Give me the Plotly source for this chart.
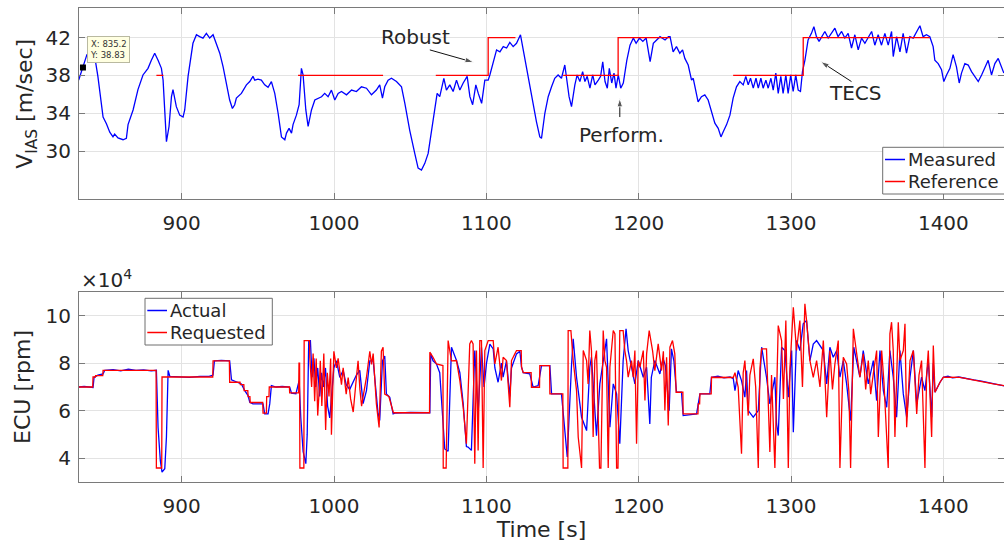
import plotly.graph_objects as go

# ---------------------------------------------------------------------------
# Data: airspeed tracking (top) and ECU engine speed (bottom)
# ---------------------------------------------------------------------------
# Measured indicated airspeed V_IAS [m/s]: (time [s], value)
vias_measured = [
    (832.4, 37.5), (835.2, 38.83), (837.8, 40.2), (840.5, 40.4), (842.9, 40.0),
    (845.0, 37.9), (848.4, 33.6), (850.6, 32.9), (852.8, 32.0), (854.9, 31.5),
    (856.0, 31.8), (858.2, 31.4), (861.5, 31.2), (863.7, 31.35), (864.8, 32.8),
    (868.1, 34.35), (871.3, 36.5), (874.6, 38.05), (877.9, 38.75), (880.1, 39.6),
    (882.3, 40.35), (884.5, 39.6), (886.7, 38.75), (887.8, 37.5), (890.0, 31.0),
    (891.7, 32.6), (893.3, 35.75), (894.3, 36.5), (895.4, 35.75), (896.5, 34.7),
    (898.7, 33.8), (900.9, 33.6), (902.0, 34.35), (904.2, 37.9), (907.4, 41.4),
    (909.7, 42.3), (911.8, 42.1), (914.0, 41.95), (916.2, 42.45), (918.4, 41.95),
    (920.6, 42.3), (922.8, 41.2), (925.0, 40.35), (927.2, 38.9), (929.4, 37.2),
    (931.5, 35.4), (933.3, 34.5), (934.8, 34.9), (935.9, 35.6), (939.2, 36.1),
    (942.5, 37.0), (944.7, 37.35), (946.8, 37.9), (948.0, 37.5), (950.1, 37.6),
    (952.3, 37.5), (954.5, 37.0), (956.7, 36.75), (958.9, 37.35), (961.1, 36.1),
    (963.3, 34.0), (965.5, 31.5), (967.7, 31.2), (968.8, 31.9), (970.5, 32.4),
    (972.1, 31.9), (973.1, 32.8), (975.3, 33.8), (977.1, 34.9), (978.6, 38.75),
    (979.7, 38.05), (981.5, 34.35), (983.0, 32.6), (985.2, 34.35), (987.4, 35.4),
    (989.5, 35.6), (991.8, 35.75), (993.9, 36.1), (996.1, 35.75), (998.3, 36.45),
    (1000.5, 35.4), (1002.7, 36.1), (1004.9, 36.3), (1008.2, 35.95), (1011.5, 36.45),
    (1014.7, 36.3), (1018.0, 36.8), (1021.3, 36.65), (1024.6, 35.95), (1027.8, 36.45),
    (1030.0, 37.0), (1031.8, 35.6), (1033.3, 36.8), (1035.5, 37.5), (1037.7, 37.7),
    (1041.0, 37.35), (1044.3, 36.8), (1046.5, 35.05), (1049.7, 32.2), (1053.0, 29.75),
    (1055.2, 28.2), (1057.4, 28.0), (1059.6, 28.7), (1061.8, 29.75), (1064.0, 32.05),
    (1066.2, 34.7), (1067.7, 36.1), (1069.4, 35.75), (1072.1, 37.7), (1073.8, 36.45),
    (1076.0, 37.0), (1078.2, 36.3), (1080.4, 37.5), (1082.6, 36.45), (1084.8, 37.2),
    (1087.4, 37.9), (1089.2, 35.75), (1091.0, 34.9), (1093.1, 37.0), (1094.7, 36.1),
    (1096.9, 35.05), (1099.0, 37.5), (1101.2, 37.5), (1102.3, 38.05), (1104.5, 39.45),
    (1106.7, 40.7), (1108.9, 40.5), (1111.1, 41.05), (1113.3, 40.9), (1115.4, 41.5),
    (1117.6, 41.05), (1119.8, 41.4), (1122.4, 42.3), (1124.2, 40.7), (1126.4, 39.1),
    (1128.6, 37.2), (1130.7, 35.2), (1132.9, 33.1), (1135.1, 31.5), (1136.2, 31.35),
    (1138.4, 34.0), (1140.6, 35.75), (1142.8, 36.8), (1144.9, 37.7), (1147.1, 38.05),
    (1149.3, 37.7), (1151.5, 39.1), (1153.0, 37.5), (1154.3, 35.75), (1155.9, 34.7),
    (1158.1, 37.0), (1159.6, 38.05), (1161.4, 37.35), (1163.2, 38.4), (1164.7, 37.35),
    (1166.2, 37.9), (1168.0, 36.65), (1169.8, 38.05), (1171.3, 37.0), (1173.5, 37.5),
    (1175.0, 37.9), (1176.4, 39.45), (1177.9, 37.35), (1179.4, 36.65), (1180.7, 38.75),
    (1182.3, 37.2), (1183.8, 38.25), (1185.1, 36.65), (1186.6, 38.05), (1188.2, 36.65),
    (1189.9, 37.2), (1192.2, 39.6), (1194.3, 41.2), (1196.5, 41.95), (1198.3, 41.4),
    (1200.5, 41.95), (1202.7, 41.6), (1204.9, 41.95), (1207.5, 39.45), (1209.6, 41.4),
    (1211.9, 41.75), (1214.0, 42.1), (1217.3, 41.75), (1219.5, 42.1), (1220.6, 42.1),
    (1222.6, 40.5), (1224.8, 41.05), (1227.0, 40.35), (1228.8, 40.7), (1230.3, 39.8),
    (1232.5, 39.1), (1234.7, 37.5), (1235.8, 37.7), (1237.5, 36.45), (1239.0, 35.2),
    (1241.2, 35.75), (1243.4, 35.95), (1245.6, 35.4), (1247.8, 34.2), (1250.0, 32.95),
    (1252.2, 32.4), (1254.0, 31.5), (1255.5, 32.05), (1257.7, 32.8), (1259.9, 33.8),
    (1262.0, 35.6), (1264.2, 36.8), (1266.4, 37.35), (1268.6, 37.0), (1270.3, 37.9),
    (1271.9, 37.0), (1273.4, 37.7), (1275.2, 36.65), (1277.0, 37.7), (1278.5, 36.65),
    (1280.2, 37.7), (1281.7, 36.65), (1283.5, 37.5), (1285.0, 36.65), (1286.8, 37.7),
    (1288.3, 36.45), (1290.0, 38.25), (1291.6, 36.1), (1293.3, 37.9), (1294.8, 36.1),
    (1296.6, 38.05), (1298.1, 36.1), (1299.8, 38.05), (1301.4, 36.3), (1303.1, 38.05),
    (1304.7, 36.45), (1306.2, 36.3), (1307.5, 38.4), (1309.1, 39.6), (1311.2, 41.75),
    (1313.4, 42.45), (1315.0, 43.15), (1316.7, 42.1), (1318.4, 41.6), (1320.0, 42.1),
    (1322.2, 42.65), (1324.4, 41.95), (1326.6, 42.45), (1328.8, 43.0), (1330.9, 42.1),
    (1333.2, 42.65), (1335.3, 41.95), (1337.5, 42.45), (1339.7, 40.9), (1341.9, 42.3),
    (1344.1, 40.7), (1346.3, 41.95), (1348.5, 41.4), (1350.7, 42.1), (1352.9, 42.65),
    (1355.0, 41.2), (1357.2, 42.3), (1359.4, 41.2), (1361.6, 42.45), (1363.8, 41.2),
    (1366.0, 42.65), (1367.1, 40.0), (1369.3, 42.1), (1371.5, 40.5), (1373.6, 42.45),
    (1375.8, 40.35), (1378.0, 42.1), (1380.2, 41.95), (1382.4, 42.65), (1384.6, 43.25),
    (1386.7, 42.1), (1388.9, 42.3), (1391.1, 42.1), (1393.3, 41.05), (1394.4, 39.6),
    (1396.6, 39.25), (1398.8, 38.6), (1400.3, 37.35), (1402.1, 38.05), (1404.3, 38.75),
    (1406.4, 40.2), (1408.6, 38.9), (1410.4, 37.2), (1411.9, 38.25), (1414.1, 39.25),
    (1416.3, 39.1), (1418.5, 38.4), (1420.7, 37.9), (1422.9, 37.35), (1425.1, 38.05),
    (1427.2, 38.9), (1429.4, 39.6), (1431.6, 38.05), (1433.8, 39.25), (1436.0, 39.8),
    (1438.2, 38.9), (1439.7, 38.25),
]

# Airspeed reference: piecewise-constant segments (None breaks the line)
vias_reference_t = [883.4, 888.0, None,
                    976.4, 1032.2, None,
                    1066.8, 1101.2, 1101.2, 1119.1, None,
                    1150.4, 1186.5, 1186.5, 1220.6, None,
                    1262.0, 1308.0, 1308.0, 1391.1]
vias_reference_v = [38, 38, None,
                    38, 38, None,
                    38, 38, 42, 42, None,
                    38, 38, 42, 42, None,
                    38, 38, 42, 42]

# ECU engine speed, actual [x1e4 rpm]: (time [s], value)
ecu_actual = [
    (832.4, 7.0), (836.0, 7.02), (841.8, 6.98), (842.5, 7.4), (845.0, 7.5),
    (848.4, 7.55), (849.5, 7.7), (855.0, 7.73), (860.0, 7.68), (865.0, 7.75),
    (870.0, 7.7), (875.0, 7.72), (880.0, 7.68), (883.4, 7.7), (884.5, 5.3),
    (886.0, 3.9), (887.1, 3.43), (888.9, 3.57), (890.0, 4.9), (891.1, 7.7),
    (892.2, 7.45), (898.0, 7.42), (905.0, 7.4), (912.0, 7.45), (918.0, 7.45),
    (920.6, 7.5), (921.5, 8.1), (926.0, 8.12), (931.5, 8.1), (932.7, 7.3),
    (936.0, 7.2), (939.2, 7.13), (941.4, 6.85), (943.6, 6.64), (944.7, 6.36),
    (946.8, 6.29), (953.4, 6.29), (954.5, 5.87), (956.7, 5.87), (957.8, 6.29),
    (958.9, 7.06), (962.0, 7.0), (966.0, 7.02), (970.9, 7.0), (972.1, 6.74),
    (975.0, 6.72), (977.1, 7.27), (978.2, 5.7), (979.7, 4.3), (981.5, 3.78),
    (982.4, 5.0), (983.4, 8.95), (984.5, 8.95), (985.6, 7.41), (986.8, 8.2),
    (988.0, 7.0), (989.3, 7.8), (990.6, 6.6), (991.8, 7.6), (993.0, 7.0),
    (994.4, 7.8), (995.8, 6.2), (997.2, 5.7), (998.5, 6.6), (999.9, 7.8),
    (1001.6, 8.1), (1003.8, 7.4), (1006.0, 7.7), (1008.0, 7.1), (1010.3, 6.9),
    (1012.5, 7.2), (1014.7, 7.5), (1016.9, 7.7), (1019.1, 6.3), (1021.3, 6.85),
    (1023.5, 8.1), (1025.7, 8.1), (1028.9, 5.9), (1030.0, 5.6), (1031.8, 8.1),
    (1033.3, 8.3), (1034.4, 6.71), (1036.6, 6.57), (1038.8, 5.87), (1040.0, 5.9),
    (1050.0, 5.93), (1062.9, 5.92), (1063.5, 8.4), (1065.0, 8.1), (1067.2, 7.97),
    (1069.4, 7.6), (1072.7, 4.4), (1074.9, 4.3), (1077.1, 8.67), (1080.4, 8.11),
    (1082.6, 7.6), (1084.8, 6.3), (1086.9, 4.5), (1088.0, 4.48), (1090.2, 4.34),
    (1092.4, 8.53), (1094.6, 5.9), (1096.8, 8.67), (1098.5, 7.0), (1100.1, 8.0),
    (1102.3, 8.8), (1104.5, 8.6), (1105.6, 7.8), (1107.7, 7.2), (1109.9, 8.0),
    (1111.0, 7.41), (1113.2, 8.1), (1115.4, 6.6), (1116.5, 7.8), (1119.8, 8.39),
    (1122.0, 8.5), (1123.1, 7.83), (1124.2, 7.6), (1128.5, 7.55), (1130.7, 6.99),
    (1134.0, 7.06), (1136.2, 7.9), (1141.7, 7.9), (1142.8, 6.71), (1149.3, 6.71),
    (1151.5, 5.0), (1153.1, 4.06), (1155.9, 7.9), (1157.0, 9.02), (1159.2, 7.41),
    (1162.5, 5.73), (1165.8, 5.17), (1167.9, 7.83), (1169.0, 8.25), (1172.3, 4.96),
    (1174.5, 7.13), (1176.7, 8.11), (1178.9, 9.02), (1181.1, 5.31), (1183.3, 7.13),
    (1185.5, 6.71), (1187.6, 4.62), (1189.8, 8.11), (1191.7, 9.44), (1193.1, 8.53),
    (1195.3, 7.83), (1197.5, 7.13), (1199.7, 8.11), (1203.0, 7.41), (1205.2, 7.83),
    (1207.3, 5.45), (1208.3, 7.41), (1210.6, 8.11), (1213.9, 7.55), (1216.0, 8.2),
    (1217.5, 7.9), (1220.0, 6.0), (1221.5, 8.6), (1223.1, 8.1), (1224.8, 6.78),
    (1228.1, 6.78), (1229.2, 5.8), (1238.0, 5.87), (1239.1, 6.29), (1240.2, 6.71),
    (1246.7, 6.71), (1247.8, 7.41), (1252.0, 7.45), (1256.0, 7.38), (1260.0, 7.42),
    (1262.1, 7.35), (1263.2, 6.85), (1265.3, 7.69), (1267.5, 7.27), (1269.7, 6.57),
    (1270.8, 7.69), (1271.9, 6.01), (1275.2, 5.73), (1278.5, 6.01), (1280.7, 8.67),
    (1283.9, 7.41), (1286.1, 6.29), (1289.4, 7.41), (1290.5, 5.45), (1291.6, 4.96),
    (1293.8, 8.67), (1296.0, 8.53), (1298.2, 6.57), (1300.4, 8.53), (1301.5, 5.1),
    (1303.6, 8.95), (1305.8, 8.53), (1308.0, 9.65), (1310.2, 9.79), (1312.4, 8.11),
    (1314.6, 8.8), (1316.8, 8.95), (1321.2, 8.53), (1323.4, 7.13), (1325.5, 8.67),
    (1327.7, 8.25), (1330.0, 8.53), (1332.1, 7.41), (1334.3, 8.11), (1336.5, 7.13),
    (1339.1, 5.59), (1341.2, 8.67), (1343.0, 8.11), (1345.2, 7.41), (1347.4, 8.53),
    (1350.7, 7.13), (1354.0, 8.11), (1356.2, 6.43), (1358.4, 8.53), (1360.6, 6.85),
    (1362.8, 6.15), (1364.9, 8.53), (1367.1, 7.41), (1369.3, 5.73), (1371.5, 8.53),
    (1373.7, 6.71), (1375.9, 5.73), (1378.1, 7.41), (1380.3, 8.53), (1382.5, 6.29),
    (1385.7, 7.41), (1387.9, 6.85), (1390.1, 8.11), (1392.3, 5.73), (1393.4, 8.0),
    (1394.5, 6.78), (1397.8, 7.2), (1400.0, 7.41), (1403.0, 7.45), (1406.0, 7.38),
    (1410.0, 7.42), (1415.0, 7.35), (1420.0, 7.3), (1425.0, 7.25), (1430.0, 7.18),
    (1435.0, 7.1), (1439.8, 7.05),
]

# ECU engine speed, requested [x1e4 rpm]: (time [s], value)
ecu_requested = [
    (832.4, 7.0), (841.6, 7.0), (841.8, 7.42), (843.3, 7.42), (843.5, 7.48),
    (848.2, 7.48), (848.4, 7.7), (883.2, 7.7), (883.4, 3.6), (886.9, 3.6),
    (887.1, 7.42), (920.4, 7.42), (920.6, 8.1), (931.3, 8.1), (931.5, 7.2),
    (938.3, 7.2), (938.5, 7.1), (940.8, 7.1), (941.0, 6.85), (943.4, 6.85),
    (943.6, 6.6), (944.8, 6.6), (945.0, 6.35), (953.2, 6.35), (953.4, 5.9),
    (955.6, 5.9), (955.8, 6.6), (957.3, 6.6), (957.5, 7.0), (970.7, 7.0),
    (970.9, 6.75), (976.8, 6.75), (977.0, 8.0), (977.4, 8.0), (977.6, 3.6),
    (980.2, 3.6), (980.4, 8.95), (983.9, 8.95), (984.1, 8.25), (985.3, 7.0),
    (986.3, 8.4), (987.3, 6.4), (988.3, 8.2), (989.3, 5.8), (990.4, 7.0),
    (991.0, 8.1), (992.0, 6.2), (993.3, 8.4), (994.5, 5.2), (995.6, 7.6),
    (996.7, 6.6), (997.8, 8.2), (998.3, 5.0), (999.9, 8.5), (1001.6, 7.8),
    (1002.7, 8.2), (1004.9, 7.1), (1006.0, 7.8), (1008.0, 6.7), (1009.3, 7.4),
    (1010.9, 6.5), (1012.6, 5.95), (1014.7, 7.4), (1015.8, 8.1), (1017.0, 6.9),
    (1018.1, 6.2), (1019.1, 6.6), (1021.3, 7.4), (1023.5, 8.5), (1024.6, 7.95),
    (1025.7, 8.4), (1027.8, 6.3), (1029.6, 5.3), (1031.1, 8.5), (1032.2, 8.67),
    (1033.3, 6.7), (1036.0, 6.6), (1039.0, 5.92), (1062.7, 5.92), (1062.9, 8.46),
    (1065.0, 8.25), (1067.2, 7.97), (1071.5, 7.9), (1071.7, 3.6), (1073.6, 3.6),
    (1074.9, 8.95), (1077.1, 8.1), (1080.4, 8.11), (1082.6, 7.27), (1084.8, 6.15),
    (1086.9, 4.62), (1088.0, 6.71), (1089.1, 8.81), (1090.2, 8.95), (1091.3, 8.81),
    (1092.4, 3.78), (1093.5, 8.53), (1094.6, 4.34), (1095.7, 8.95), (1096.8, 8.95),
    (1097.9, 3.6), (1099.0, 8.53), (1101.2, 8.95), (1104.5, 8.95), (1105.6, 7.97),
    (1107.7, 8.67), (1109.9, 7.27), (1111.0, 8.25), (1113.2, 8.11), (1115.4, 6.15),
    (1116.5, 8.11), (1118.7, 8.39), (1119.8, 8.53), (1122.9, 8.53), (1123.1, 7.83),
    (1124.2, 7.6), (1129.4, 7.6), (1129.6, 6.99), (1134.9, 6.99), (1135.1, 7.9),
    (1141.5, 7.9), (1141.7, 6.71), (1150.2, 6.71), (1150.4, 3.6), (1153.5, 3.6),
    (1153.7, 9.37), (1155.5, 9.37), (1157.0, 8.11), (1159.2, 6.85), (1160.3, 4.9),
    (1162.5, 3.6), (1163.6, 8.53), (1165.8, 8.11), (1166.8, 7.13), (1167.9, 9.37),
    (1169.0, 8.53), (1170.1, 4.9), (1171.2, 8.11), (1172.3, 8.53), (1174.3, 3.6),
    (1175.2, 3.6), (1176.7, 9.37), (1177.8, 8.11), (1178.9, 7.83), (1180.0, 3.6),
    (1181.1, 7.83), (1183.3, 9.37), (1184.4, 9.23), (1185.5, 3.6), (1186.4, 3.6),
    (1187.6, 9.37), (1189.8, 9.37), (1190.9, 8.53), (1192.0, 8.11), (1193.1, 7.41),
    (1195.3, 8.11), (1196.4, 7.41), (1197.5, 8.53), (1198.6, 4.62), (1199.7, 8.11),
    (1200.8, 7.83), (1203.0, 8.53), (1204.1, 6.43), (1205.2, 8.39), (1206.9, 9.37),
    (1209.1, 8.53), (1210.6, 7.69), (1212.8, 8.81), (1215.0, 7.69), (1216.2, 8.5),
    (1217.2, 6.01), (1218.3, 8.25), (1219.4, 5.38), (1220.5, 8.67), (1222.2, 8.95),
    (1223.7, 8.39), (1224.6, 6.78), (1229.0, 6.78), (1229.2, 5.87), (1238.9, 5.87),
    (1239.1, 6.29), (1240.0, 6.29), (1240.2, 6.71), (1247.6, 6.71), (1247.8, 7.41),
    (1262.1, 7.4), (1263.2, 7.6), (1265.3, 7.0), (1267.5, 4.2), (1268.6, 7.6),
    (1269.7, 8.11), (1271.9, 5.8), (1273.0, 7.5), (1275.2, 8.18), (1276.8, 7.0),
    (1278.5, 3.6), (1279.6, 7.8), (1280.7, 8.6), (1283.9, 8.6), (1286.1, 4.27),
    (1287.2, 7.5), (1289.4, 3.6), (1290.5, 7.3), (1291.6, 9.58), (1293.8, 8.95),
    (1295.0, 6.5), (1296.6, 9.79), (1298.2, 3.6), (1299.3, 7.8), (1301.5, 10.35),
    (1303.6, 8.53), (1305.8, 9.79), (1307.5, 7.0), (1309.1, 10.49), (1310.2, 9.79),
    (1312.4, 8.11), (1314.6, 7.4), (1316.8, 8.11), (1319.0, 7.0), (1321.2, 8.95),
    (1323.4, 5.73), (1325.5, 8.53), (1327.2, 6.9), (1328.8, 7.97), (1331.0, 8.95),
    (1332.1, 3.6), (1334.3, 8.25), (1336.5, 7.97), (1338.0, 6.8), (1339.1, 3.6),
    (1340.9, 9.44), (1343.0, 8.53), (1345.2, 7.41), (1347.4, 8.39), (1349.0, 6.9),
    (1350.7, 8.11), (1352.3, 6.7), (1354.0, 7.55), (1356.2, 8.53), (1357.3, 4.9),
    (1359.5, 8.53), (1361.0, 7.2), (1362.8, 5.17), (1363.8, 3.6), (1364.9, 9.23),
    (1366.0, 9.72), (1367.1, 8.53), (1368.2, 4.9), (1370.4, 9.72), (1371.5, 8.11),
    (1373.7, 8.53), (1374.8, 9.65), (1375.9, 5.31), (1378.1, 8.11), (1380.3, 8.53),
    (1382.5, 5.87), (1384.0, 7.5), (1385.7, 8.11), (1387.9, 3.6), (1389.0, 7.5),
    (1390.1, 8.53), (1392.3, 4.9), (1393.4, 8.74), (1394.5, 6.78), (1397.8, 7.2),
    (1400.0, 7.41), (1410.9, 7.4), (1421.9, 7.25), (1432.8, 7.13), (1439.8, 7.06),
]

# Axis settings
time_range = [832.6, 1439.8]
time_ticks = [900, 1000, 1100, 1200, 1300, 1400]
vias_range = [24.9, 45.1]
vias_ticks = [30, 34, 38, 42]
ecu_scale = 1e4
ecu_range = [3.0, 11.0]
ecu_ticks = [4, 6, 8, 10]

# Data tip on the measured airspeed
tip_t, tip_v = 835.2, 38.83

# Controller labels: text position and arrow (tail -> head), airspeed axes
labels = [
    ("Robust", (1053.7, 42.1), (1062.9, 40.7), (1093.5, 39.3)),
    ("Perform.", (1188.6, 31.7), (1187.6, 33.6), (1187.6, 35.9)),
    ("TECS", (1342.6, 36.15), (1339.7, 37.35), (1317.8, 39.64)),
]

# ---------------------------------------------------------------------------
W, H = 1004, 542
FONT = "DejaVu Sans"
TXT = "#262626"
AX = "#7a7a7a"
GRID = "#e3e3e3"
BLUE = "#0000ff"
RED = "#ff0000"


def px(x):
    return x / W


def py(y):
    return 1 - y / H


def unzip(pairs):
    return [p[0] for p in pairs], [p[1] for p in pairs]


meas_t, meas_v = unzip(vias_measured)
act_t, act_v = unzip(ecu_actual)
req_t, req_v = unzip(ecu_requested)
act_rpm = [v * ecu_scale for v in act_v]
req_rpm = [v * ecu_scale for v in req_v]

fig = go.Figure()

fig.add_trace(go.Scatter(x=meas_t, y=meas_v, mode="lines", name="Measured",
                         line=dict(color=BLUE, width=1.3), xaxis="x", yaxis="y"))
fig.add_trace(go.Scatter(x=vias_reference_t, y=vias_reference_v, mode="lines",
                         name="Reference", connectgaps=False,
                         line=dict(color=RED, width=1.3), xaxis="x", yaxis="y"))
fig.add_trace(go.Scatter(x=[tip_t], y=[tip_v], mode="markers",
                         marker=dict(symbol="square", size=6, color="black"),
                         xaxis="x", yaxis="y", showlegend=False))

# Arrows pointing at the controller switch instants
for _, _, tail, head in labels:
    fig.add_trace(go.Scatter(
        x=[tail[0], head[0]], y=[tail[1], head[1]], mode="lines+markers",
        line=dict(color="#111111", width=1),
        marker=dict(symbol="arrow", size=[0, 9], color="#111111",
                    angleref="previous", standoff=3),
        xaxis="x", yaxis="y", showlegend=False, hoverinfo="skip"))

fig.add_trace(go.Scatter(x=act_t, y=act_rpm, mode="lines", name="Actual",
                         line=dict(color=BLUE, width=1.3), xaxis="x2", yaxis="y2"))
fig.add_trace(go.Scatter(x=req_t, y=req_rpm, mode="lines", name="Requested",
                         line=dict(color=RED, width=1.3),
                         xaxis="x2", yaxis="y2"))


def axis_style(**kw):
    d = dict(showline=True, linecolor=AX, linewidth=1, mirror="ticks",
             ticks="inside", ticklen=6, tickcolor=AX, tickwidth=1,
             showgrid=True, gridcolor=GRID, gridwidth=1, zeroline=False,
             automargin=False, tickfont=dict(family=FONT, size=20, color=TXT))
    d.update(kw)
    return d


top_dom = [py(199.3), py(8.3)]
bot_dom = [py(482.3), py(291.7)]
x_dom = [px(79), 1.0]

fig.update_layout(
    width=W, height=H,
    margin=dict(l=0, r=0, t=0, b=0),
    paper_bgcolor="white", plot_bgcolor="white",
    showlegend=False,
    font=dict(family=FONT, color=TXT),
    xaxis=axis_style(domain=x_dom, range=time_range, tickvals=time_ticks,
                     anchor="y", ticklabelstandoff=6),
    yaxis=axis_style(domain=top_dom, range=vias_range, tickvals=vias_ticks,
                     anchor="x", ticklabelstandoff=3,
                     title=dict(text="V<sub>IAS</sub> [m/sec]",
                                font=dict(family=FONT, size=22, color=TXT),
                                standoff=6)),
    xaxis2=axis_style(domain=x_dom, range=time_range, tickvals=time_ticks,
                      anchor="y2", ticklabelstandoff=6,
                      title=dict(text="Time [s]",
                                 font=dict(family=FONT, size=22, color=TXT),
                                 standoff=4)),
    yaxis2=axis_style(domain=bot_dom,
                      range=[ecu_range[0] * ecu_scale, ecu_range[1] * ecu_scale],
                      tickvals=[v * ecu_scale for v in ecu_ticks],
                      ticktext=[str(v) for v in ecu_ticks],
                      anchor="x2", ticklabelstandoff=3,
                      title=dict(text="ECU [rpm]",
                                 font=dict(family=FONT, size=22, color=TXT),
                                 standoff=8)),
)

shapes = []
annotations = []


# Legend boxes drawn as shapes + text
def legend_box(x0, y0, x1, y1, rows):
    shapes.append(dict(type="rect", xref="paper", yref="paper",
                       x0=px(x0), x1=px(x1), y0=py(y1), y1=py(y0),
                       line=dict(color="#6e6e6e", width=1), fillcolor="white",
                       layer="above"))
    for (label, color, ly, lx0, lx1) in rows:
        shapes.append(dict(type="line", xref="paper", yref="paper",
                           x0=px(lx0), x1=px(lx1), y0=py(ly), y1=py(ly),
                           line=dict(color=color, width=1.5), layer="above"))
        annotations.append(dict(xref="paper", yref="paper", x=px(lx1 + 1),
                                y=py(ly), text=label, showarrow=False,
                                xanchor="left", yanchor="middle",
                                font=dict(family=FONT, size=18, color=TXT)))


legend_box(882.7, 147.3, 1012, 194.0,
           [("Measured", BLUE, 159.5, 885, 905),
            ("Reference", RED, 181.5, 885, 905)])
legend_box(145.0, 298.3, 272.3, 345.0,
           [("Actual", BLUE, 310.5, 147.3, 167),
            ("Requested", RED, 332.5, 147.3, 167)])

# Exponent label of the ECU axis
annotations.append(dict(xref="paper", yref="paper", x=px(79), y=py(279),
                        text="\u00d710<sup>4</sup>", showarrow=False,
                        xanchor="left", yanchor="middle",
                        font=dict(family=FONT, size=20, color=TXT)))

# Data tip
annotations.append(dict(xref="paper", yref="paper", x=px(87), y=py(36),
                        text="X: 835.2<br>Y: 38.83", showarrow=False,
                        xanchor="left", yanchor="top", align="left",
                        bgcolor="#ffffe1", bordercolor="#b9b9a0",
                        borderwidth=1, borderpad=2,
                        font=dict(family=FONT, size=8.5, color="#333333")))

# Controller label texts
for text, pos, _, _ in labels:
    annotations.append(dict(xref="x", yref="y", x=pos[0], y=pos[1], text=text,
                            showarrow=False, xanchor="center", yanchor="middle",
                            font=dict(family=FONT, size=20, color=TXT)))

fig.update_layout(shapes=shapes, annotations=annotations)

fig.write_html("out.html")
